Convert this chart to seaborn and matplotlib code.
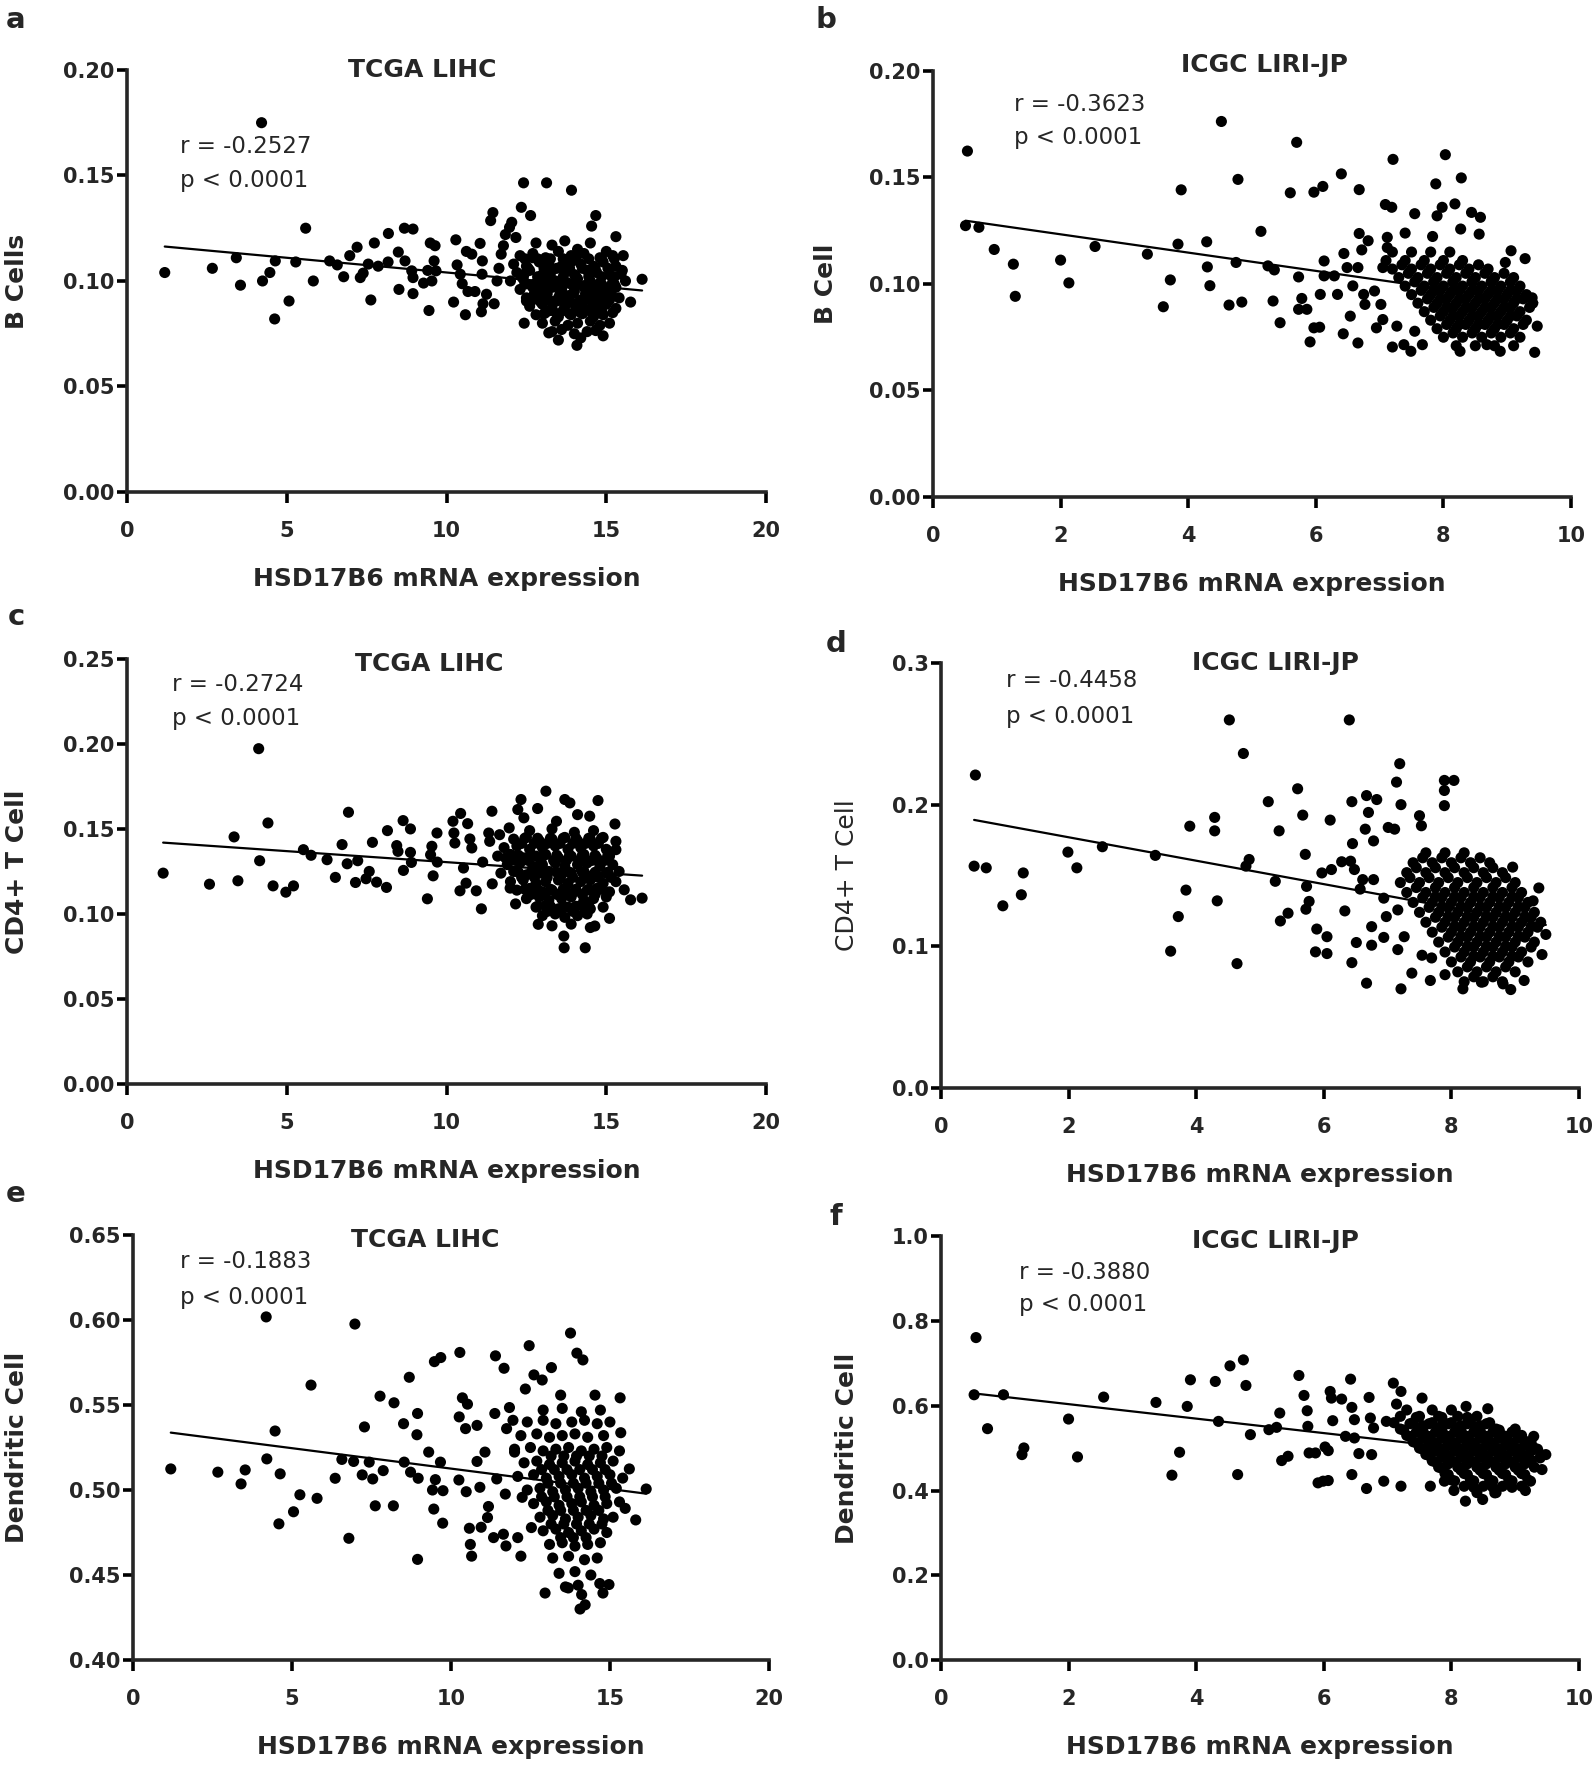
import matplotlib
matplotlib.use("Agg")
import matplotlib.pyplot as plt
import pandas as pd
import seaborn as sns

# ---- a: TCGA LIHC, B cells ----
a_x = [1.18, 2.67, 3.42, 3.55, 4.21, 4.24, 4.47, 4.64, 4.62, 5.07,
       5.28, 5.59, 5.83, 6.34, 6.58, 6.78, 6.97, 7.20, 7.30, 7.39,
       7.55, 7.63, 7.74, 7.86, 8.18, 8.17, 8.49, 8.51, 8.68, 8.70,
       8.95, 8.91, 8.95, 8.95, 9.28, 9.41, 9.45, 9.49, 9.61, 9.64,
       9.54, 9.67, 10.22, 10.29, 10.33, 10.43, 10.49, 10.59, 10.62, 10.67,
       10.79, 10.89, 11.05, 11.12, 11.11, 11.09, 11.14, 11.25, 11.38, 11.45,
       11.49, 11.58, 11.64, 11.71, 11.78, 11.84, 11.97, 12.04, 12.17, 12.34,
       12.41, 12.43, 12.43, 12.50, 12.63, 12.70, 13.13, 13.91, 14.67, 14.54,
       14.08, 14.67, 13.20, 15.76, 16.12, 15.30, 15.53, 15.46]
a_y = [.104, .106, .111, .098, .175, .100, .104, .1095, .082, .0905,
       .109, .125, .100, .1095, .1076, .102, .112, .116, .1016, .1037,
       .108, .091, .118, .107, .1225, .109, .1137, .096, .125, .1095,
       .1246, .1048, .1016, .094, .099, .105, .086, .118, .1095, .1167,
       .100, .1048, .090, .1195, .1076, .1032, .0987, .084, .114, .095,
       .1127, .095, .1178, .1095, .1032, .0854, .0892, .0937, .1286, .1324,
       .0892, .100, .106, .1127, .1167, .122, .1254, .1278, .1206, .1349,
       .1465, .1032, .080, .0905, .131, .111, .1465, .143, .131, .126,
       .0695, .0765, .0754, .090, .1008, .121, .112, .1032]
a_core_x = [12.8, 13.3, 13.7, 14.1, 14.5, 15.0,
            12.3, 12.7, 13.1, 13.5, 13.9, 14.3, 14.8, 15.2,
            12.1, 12.5, 12.9, 13.2, 13.6, 13.9, 14.2, 14.6, 14.9, 15.3,
            12.2, 12.6, 13.0, 13.3, 13.7, 14.0, 14.4, 14.7, 15.1, 15.5,
            12.0, 12.4, 12.8, 13.1, 13.4, 13.8, 14.1, 14.5, 14.8, 15.2, 15.6,
            12.3, 12.7, 13.0, 13.3, 13.6, 14.0, 14.3, 14.6, 14.9, 15.3,
            12.5, 12.9, 13.2, 13.5, 13.8, 14.2, 14.5, 14.8, 15.1, 15.4,
            12.6, 13.0, 13.3, 13.7, 14.0, 14.3, 14.7, 15.0, 15.3,
            12.8, 13.1, 13.5, 13.9, 14.2, 14.6, 14.9, 15.2,
            13.0, 13.4, 13.8, 14.1, 14.5, 14.8, 15.1,
            13.3, 13.6, 14.0, 14.4, 14.7,
            13.5, 14.2, 14.9,
            12.55, 13.05, 13.45, 13.85, 14.25, 14.65, 15.05,
            12.35, 12.85, 13.25, 13.65, 14.05, 14.45, 14.85, 15.25,
            12.65, 13.15, 13.55, 13.95, 14.35, 14.75, 15.15,
            12.75, 13.15, 13.55, 13.95, 14.35, 14.75, 15.15,
            12.95, 13.35, 13.75, 14.15, 14.55, 14.95,
            13.25, 13.65, 14.05, 14.45, 14.85]
a_core_y = [.118, .117, .119, .115, .118, .114,
            .112, .113, .111, .114, .112, .113, .111, .112,
            .108, .107, .109, .108, .107, .109, .108, .107, .109, .107,
            .104, .105, .103, .105, .104, .103, .105, .104, .103, .105,
            .100, .101, .099, .101, .100, .099, .101, .100, .099, .101, .100,
            .096, .097, .095, .097, .096, .095, .097, .096, .095, .097,
            .092, .093, .091, .092, .093, .091, .092, .093, .091, .092,
            .088, .089, .087, .088, .089, .087, .088, .089, .087,
            .084, .085, .083, .084, .085, .083, .084, .085,
            .080, .081, .079, .080, .081, .079, .080,
            .076, .077, .075, .076, .077,
            .072, .073, .074,
            .106, .106, .106, .106, .106, .106, .106,
            .102, .102, .102, .102, .102, .102, .102, .102,
            .098, .098, .098, .098, .098, .098, .098,
            .094, .094, .094, .094, .094, .094, .094,
            .090, .090, .090, .090, .090, .090,
            .086, .086, .086, .086, .086]
a_fill_x = [12.45, 12.85, 13.25, 13.65, 14.05, 14.45, 14.85, 15.25,
            12.45, 12.85, 13.25, 13.65, 14.05, 14.45, 14.85, 15.25,
            12.65, 13.05, 13.45, 13.85, 14.25, 14.65, 15.05,
            13.05, 13.45, 13.85, 14.25, 14.65]
a_fill_y = [.1105, .1105, .1105, .1105, .1105, .1105, .1105, .1105,
            .0985, .0985, .0985, .0985, .0985, .0985, .0985, .0985,
            .0905, .0905, .0905, .0905, .0905, .0905, .0905,
            .0845, .0845, .0845, .0845, .0845]

# ---- b: ICGC LIRI-JP, B cell ----
b_x = [0.54, 0.51, 0.72, 0.96, 1.26, 1.29, 2.00, 2.13, 2.54, 3.36,
       3.61, 3.72, 3.84, 3.89, 4.29, 4.30, 4.34, 4.52, 4.64, 4.75,
       4.78, 4.84, 5.14, 5.25, 5.33, 5.35, 5.44, 5.60, 5.70, 5.73,
       5.78, 5.73, 5.86, 5.91, 5.97, 5.97, 6.06, 6.07, 6.11, 6.13,
       6.13, 6.29, 6.34, 6.40, 6.43, 6.44, 6.49, 6.54, 6.58, 6.66,
       6.66, 6.68, 6.68, 6.72, 6.82, 6.75, 6.77, 6.92, 6.95, 7.02,
       7.05, 7.05, 7.09, 7.12, 7.12, 7.19, 7.20, 7.21, 7.27, 7.38,
       7.40, 7.49, 7.55, 7.55, 7.67, 7.83, 7.88, 7.90, 8.03, 7.98,
       8.18, 8.28, 8.27, 8.44, 8.58, 8.56, 8.26, 8.68, 8.89, 9.06,
       9.28, 9.39, 9.47, 9.43, 8.97]
b_y = [.1624, .1274, .1266, .1162, .1093, .0942, .1112, .1005, .1176, .114,
       .0893, .1019, .1187, .1442, .1198, .108, .0992, .1763, .0901, .1101,
       .1491, .0915, .1247, .1085, .092, .1066, .0818, .1428, .1665, .1033,
       .0932, .0881, .0881, .0728, .1431, .0794, .0797, .0951, .1458, .1108,
       .1038, .1038, .0951, .1517, .0766, .1143, .1077, .0849, .0991, .1077,
       .0723, .1443, .1237, .116, .1203, .0951, .0904, .0967, .0794, .0904,
       .1077, .0833, .1373, .1219, .1171, .136, .0704, .1585, .0802, .0715,
       .1239, .0684, .133, .0778, .0715, .1223, .147, .132, .1607, .136,
       .1376, .1498, .1258, .1336, .1313, .1234, .0684, .0715, .0684, .1156,
       .1119, .0935, .0802, .0679, .1101]
b_core_x = [7.2, 7.5, 7.8, 8.1,
            7.1, 7.4, 7.7, 8.0, 8.3,
            7.2, 7.5, 7.8, 8.1, 8.4, 8.7,
            7.3, 7.6, 7.9, 8.2, 8.5, 8.8, 9.1,
            7.4, 7.7, 8.0, 8.3, 8.6, 8.9, 9.2,
            7.5, 7.8, 8.1, 8.4, 8.7, 9.0, 9.3,
            7.6, 7.9, 8.2, 8.5, 8.8, 9.1, 9.4,
            7.7, 8.0, 8.3, 8.6, 8.9, 9.2,
            7.8, 8.1, 8.4, 8.7, 9.0, 9.3,
            7.9, 8.2, 8.5, 8.8, 9.1,
            8.0, 8.3, 8.6, 8.9, 9.2,
            8.2, 8.5, 8.8, 9.1,
            7.85, 8.15, 8.45, 8.75,
            7.85, 8.15, 8.45, 8.75, 9.05,
            7.95, 8.25, 8.55, 8.85, 9.15,
            8.05, 8.35, 8.65, 8.95,
            8.15, 8.45, 8.75, 9.05,
            8.25, 8.55, 8.85]
b_core_y = [.115, .115, .115, .115,
            .111, .111, .111, .111, .111,
            .107, .107, .107, .107, .107, .107,
            .103, .103, .103, .103, .103, .103, .103,
            .099, .099, .099, .099, .099, .099, .099,
            .095, .095, .095, .095, .095, .095, .095,
            .091, .091, .091, .091, .091, .091, .091,
            .087, .087, .087, .087, .087, .087,
            .083, .083, .083, .083, .083, .083,
            .079, .079, .079, .079, .079,
            .075, .075, .075, .075, .075,
            .071, .071, .071, .071,
            .101, .101, .101, .101,
            .097, .097, .097, .097, .097,
            .093, .093, .093, .093, .093,
            .089, .089, .089, .089,
            .085, .085, .085, .085,
            .081, .081, .081]
b_fill_x = [7.35, 7.65, 7.95, 8.25, 8.55,
            7.45, 7.75, 8.05, 8.35, 8.65, 8.95,
            7.55, 7.85, 8.15, 8.45, 8.75, 9.05,
            7.65, 7.95, 8.25, 8.55, 8.85, 9.15,
            7.75, 8.05, 8.35, 8.65, 8.95, 9.25,
            7.85, 8.15, 8.45, 8.75, 9.05, 9.35,
            7.95, 8.25, 8.55, 8.85, 9.15,
            8.05, 8.35, 8.65, 8.95, 9.25,
            8.15, 8.45, 8.75, 9.05]
b_fill_y = [.109, .109, .109, .109, .109,
            .105, .105, .105, .105, .105, .105,
            .101, .101, .101, .101, .101, .101,
            .097, .097, .097, .097, .097, .097,
            .093, .093, .093, .093, .093, .093,
            .089, .089, .089, .089, .089, .089,
            .085, .085, .085, .085, .085,
            .081, .081, .081, .081, .081,
            .077, .077, .077, .077]

# ---- c: TCGA LIHC, CD4+ T cell ----
c_x = [1.13, 2.58, 3.35, 3.47, 4.12, 4.15, 4.41, 4.57, 4.97, 5.21,
       5.52, 5.76, 6.26, 6.52, 6.73, 6.89, 6.93, 7.15, 7.22, 7.48,
       7.58, 7.68, 7.81, 8.12, 8.15, 8.44, 8.48, 8.64, 8.65, 8.87,
       8.87, 8.90, 9.40, 9.50, 9.54, 9.58, 9.70, 9.71, 10.20, 10.23,
       10.26, 10.44, 10.42, 10.53, 10.61, 10.66, 10.73, 10.79, 10.93, 11.09,
       11.13, 11.32, 11.35, 11.42, 11.43, 11.66, 11.85, 11.96, 11.99, 12.16,
       12.23, 12.33, 12.42, 12.85, 12.87, 13.11, 13.44, 13.67, 13.68, 13.70,
       13.86, 14.10, 14.34, 14.48, 14.74, 14.64, 15.10, 15.27, 15.30, 15.30,
       15.56, 15.76, 16.12]
c_y = [.124, .1175, .1453, .1195, .1972, .1313, .1535, .1165, .1128, .1165,
       .1378, .1345, .1319, .1215, .1408, .1295, .1598, .1185, .1313, .1207,
       .125, .1421, .1187, .1156, .149, .1402, .1368, .1549, .1256, .15,
       .1362, .1303, .1089, .1348, .1398, .1224, .1476, .1305, .1545, .1476,
       .1417, .1591, .1136, .127, .1181, .1531, .1441, .1388, .1136, .103,
       .1305, .1476, .1427, .1604, .1177, .1466, .1329, .1506, .1152, .1059,
       .1614, .1673, .1565, .162, .0939, .1722, .1545, .087, .0801, .1673,
       .1653, .1584, .0801, .1575, .1667, .0929, .0974, .1529, .1427, .1378,
       .1142, .1083, .1093]
c_core_x = [12.6, 13.3, 14.0, 14.6,
            12.1, 12.5, 12.9, 13.3, 13.7, 14.1, 14.5, 14.9,
            11.8, 12.2, 12.6, 13.0, 13.4, 13.8, 14.2, 14.6, 15.0,
            11.6, 12.0, 12.4, 12.8, 13.1, 13.5, 13.9, 14.3, 14.7, 15.1,
            11.9, 12.3, 12.7, 13.0, 13.4, 13.7, 14.1, 14.4, 14.8, 15.2,
            11.7, 12.1, 12.5, 12.9, 13.2, 13.6, 13.9, 14.3, 14.6, 15.0, 15.4,
            12.0, 12.4, 12.8, 13.1, 13.5, 13.8, 14.2, 14.5, 14.9, 15.3,
            12.2, 12.6, 13.0, 13.3, 13.7, 14.0, 14.4, 14.7, 15.1,
            12.5, 12.9, 13.2, 13.6, 13.9, 14.3, 14.6, 15.0,
            12.8, 13.1, 13.5, 13.8, 14.2, 14.5, 14.9,
            13.0, 13.4, 13.7, 14.1, 14.4,
            13.3, 13.9, 14.5,
            12.35, 12.75, 13.15, 13.55, 13.95, 14.35, 14.75,
            12.15, 12.55, 12.95, 13.35, 13.75, 14.15, 14.55, 14.95,
            12.35, 12.75, 13.15, 13.55, 13.95, 14.35, 14.75, 15.15,
            12.65, 13.05, 13.45, 13.85, 14.25, 14.65,
            13.15, 13.55, 13.95, 14.35]
c_core_y = [.149, .150, .148, .149,
            .144, .145, .143, .144, .145, .143, .144, .145,
            .139, .140, .138, .139, .140, .138, .139, .140, .138,
            .134, .135, .133, .134, .135, .133, .134, .135, .133, .134,
            .129, .130, .128, .129, .130, .128, .129, .130, .128, .129,
            .124, .125, .123, .124, .125, .123, .124, .125, .123, .124, .125,
            .119, .120, .118, .119, .120, .118, .119, .120, .118, .119,
            .114, .115, .113, .114, .115, .113, .114, .115, .113,
            .109, .110, .108, .109, .110, .108, .109, .110,
            .104, .105, .103, .104, .105, .103, .104,
            .099, .100, .098, .099, .100,
            .093, .094, .092,
            .1415, .1415, .1415, .1415, .1415, .1415, .1415,
            .1315, .1315, .1315, .1315, .1315, .1315, .1315, .1315,
            .1215, .1215, .1215, .1215, .1215, .1215, .1215, .1215,
            .1115, .1115, .1115, .1115, .1115, .1115,
            .1015, .1015, .1015, .1015]
c_fill_x = [12.45, 12.85, 13.25, 13.65, 14.05, 14.45, 14.85,
            12.25, 12.65, 13.05, 13.45, 13.85, 14.25, 14.65, 15.05,
            12.25, 12.65, 13.05, 13.45, 13.85, 14.25, 14.65, 15.05,
            12.45, 12.85, 13.25, 13.65, 14.05, 14.45, 14.85,
            12.85, 13.25, 13.65, 14.05, 14.45]
c_fill_y = [.1445, .1445, .1445, .1445, .1445, .1445, .1445,
            .1345, .1345, .1345, .1345, .1345, .1345, .1345, .1345,
            .1245, .1245, .1245, .1245, .1245, .1245, .1245, .1245,
            .1145, .1145, .1145, .1145, .1145, .1145, .1145,
            .1045, .1045, .1045, .1045, .1045]

# ---- d: ICGC LIRI-JP, CD4+ T cell ----
d_x = [0.54, 0.52, 0.71, 0.97, 1.26, 1.29, 1.99, 2.13, 2.53, 3.36,
       3.60, 3.72, 3.84, 3.90, 4.29, 4.29, 4.33, 4.52, 4.64, 4.74,
       4.78, 4.83, 5.13, 5.24, 5.30, 5.32, 5.44, 5.59, 5.67, 5.71,
       5.73, 5.77, 5.72, 5.89, 5.87, 6.05, 6.05, 5.97, 6.10, 6.12,
       6.28, 6.33, 6.42, 6.44, 6.40, 6.45, 6.44, 6.48, 6.51, 6.57,
       6.61, 6.65, 6.67, 6.67, 6.70, 6.75, 6.75, 6.78, 6.83, 6.78,
       6.94, 6.94, 6.98, 7.01, 7.11, 7.14, 7.16, 7.16, 7.19, 7.21,
       7.21, 7.26, 7.38, 7.50, 7.53, 7.54, 7.67, 7.69, 7.89, 7.89,
       7.89, 8.04, 7.90, 8.18, 8.47, 8.81, 8.93, 8.96, 9.28, 9.37,
       9.42, 9.48, 9.14]
d_y = [.2209, .1566, .1554, .1286, .1364, .1518, .1665, .1554, .1703, .1642,
       .0966, .121, .1397, .1848, .191, .1815, .1321, .2598, .0878, .2361,
       .1566, .1613, .2021, .1459, .1815, .1179, .1234, .2112, .1926, .1649,
       .1423, .1317, .1262, .1122, .0961, .1068, .0949, .1518, .1891, .1542,
       .1597, .125, .1601, .2021, .2598, .1725, .0885, .1542, .1027, .1404,
       .1471, .1827, .2064, .074, .1945, .1139, .1008, .1744, .2036, .1471,
       .134, .1063, .121, .1839, .1827, .2159, .1257, .0977, .2289, .200,
       .070, .1068, .0811, .1922, .1851, .0937, .0759, .0918, .2171, .210,
       .1993, .2171, .080, .070, .0747, .0735, .0695, .1559, .1321, .1412,
       .0942, .1084, .0759]
d_core_x = [7.6, 7.9, 8.2,
            7.4, 7.7, 8.0, 8.3, 8.6,
            7.3, 7.6, 7.9, 8.2, 8.5, 8.8,
            7.2, 7.5, 7.8, 8.1, 8.4, 8.7, 9.0,
            7.3, 7.6, 7.9, 8.2, 8.5, 8.8, 9.1,
            7.4, 7.7, 8.0, 8.3, 8.6, 8.9, 9.2,
            7.5, 7.8, 8.1, 8.4, 8.7, 9.0, 9.3,
            7.6, 7.9, 8.2, 8.5, 8.8, 9.1, 9.4,
            7.7, 8.0, 8.3, 8.6, 8.9, 9.2,
            7.8, 8.1, 8.4, 8.7, 9.0, 9.3,
            7.9, 8.2, 8.5, 8.8, 9.1,
            8.0, 8.3, 8.6, 8.9, 9.2,
            8.1, 8.4, 8.7, 9.0,
            8.2, 8.5, 8.8,
            7.75, 8.05, 8.35, 8.65, 8.95,
            7.85, 8.15, 8.45, 8.75, 9.05,
            7.95, 8.25, 8.55, 8.85, 9.15,
            8.05, 8.35, 8.65, 8.95, 9.25,
            8.15, 8.45, 8.75, 9.05,
            8.25, 8.55, 8.85,
            8.35, 8.65, 8.95]
d_core_y = [.166, .166, .166,
            .159, .159, .159, .159, .159,
            .152, .152, .152, .152, .152, .152,
            .145, .145, .145, .145, .145, .145, .145,
            .138, .138, .138, .138, .138, .138, .138,
            .131, .131, .131, .131, .131, .131, .131,
            .124, .124, .124, .124, .124, .124, .124,
            .117, .117, .117, .117, .117, .117, .117,
            .110, .110, .110, .110, .110, .110,
            .103, .103, .103, .103, .103, .103,
            .096, .096, .096, .096, .096,
            .089, .089, .089, .089, .089,
            .082, .082, .082, .082,
            .075, .075, .075,
            .135, .135, .135, .135, .135,
            .128, .128, .128, .128, .128,
            .121, .121, .121, .121, .121,
            .114, .114, .114, .114, .114,
            .107, .107, .107, .107,
            .100, .100, .100,
            .093, .093, .093]
d_fill_x = [7.55, 7.85, 8.15, 8.45,
            7.45, 7.75, 8.05, 8.35, 8.65,
            7.35, 7.65, 7.95, 8.25, 8.55, 8.85,
            7.45, 7.75, 8.05, 8.35, 8.65, 8.95,
            7.55, 7.85, 8.15, 8.45, 8.75, 9.05,
            7.65, 7.95, 8.25, 8.55, 8.85, 9.15,
            7.75, 8.05, 8.35, 8.65, 8.95, 9.25,
            7.85, 8.15, 8.45, 8.75, 9.05, 9.35,
            7.95, 8.25, 8.55, 8.85, 9.15,
            8.05, 8.35, 8.65, 8.95, 9.25,
            8.15, 8.45, 8.75, 9.05,
            8.25, 8.55, 8.85,
            8.35, 8.65]
d_fill_y = [.1625, .1625, .1625, .1625,
            .1555, .1555, .1555, .1555, .1555,
            .1485, .1485, .1485, .1485, .1485, .1485,
            .1415, .1415, .1415, .1415, .1415, .1415,
            .1345, .1345, .1345, .1345, .1345, .1345,
            .1275, .1275, .1275, .1275, .1275, .1275,
            .1205, .1205, .1205, .1205, .1205, .1205,
            .1135, .1135, .1135, .1135, .1135, .1135,
            .1065, .1065, .1065, .1065, .1065,
            .0995, .0995, .0995, .0995, .0995,
            .0925, .0925, .0925, .0925,
            .0855, .0855, .0855,
            .0785, .0785]

# ---- e: TCGA LIHC, dendritic cell ----
e_x = [1.19, 2.67, 3.40, 3.53, 4.21, 4.19, 4.47, 4.63, 4.59, 5.05,
       5.25, 5.60, 5.79, 6.36, 6.57, 6.79, 6.94, 6.98, 7.21, 7.28,
       7.43, 7.54, 7.62, 7.77, 7.87, 8.19, 8.21, 8.51, 8.53, 8.69,
       8.73, 8.93, 8.95, 8.95, 8.97, 9.30, 9.42, 9.46, 9.51, 9.48,
       9.68, 9.67, 9.74, 9.75, 10.25, 10.28, 10.26, 10.36, 10.48, 10.52,
       10.46, 10.58, 10.61, 10.65, 10.82, 10.82, 10.91, 10.95, 11.07, 11.18,
       11.15, 11.34, 11.38, 11.40, 11.44, 11.67, 11.65, 11.71, 11.73, 11.75,
       11.84, 11.95, 12.00, 12.10, 12.20, 12.24, 12.34, 12.46, 12.53, 12.61,
       12.87, 12.96, 13.16, 13.45, 13.76, 13.96, 14.15, 13.69, 14.06, 14.22,
       14.11, 14.68, 14.78, 14.97, 14.53, 15.32, 15.34, 15.61, 15.81, 16.14,
       15.48]
e_y = [.5124, .5105, .5036, .5118, .5183, .6018, .5347, .5095, .4801, .4872,
       .4972, .5617, .4951, .5069, .518, .4716, .5168, .5976, .5089, .5371,
       .5164, .5065, .4907, .5552, .5114, .4907, .5513, .539, .5164, .5663,
       .5105, .5325, .545, .4592, .5069, .5223, .500, .4888, .5061, .5755,
       .5779, .5164, .4805, .4996, .5059, .5809, .543, .5542, .499, .5505,
       .5361, .4775, .468, .4611, .538, .5168, .5016, .4781, .5223, .4903,
       .4838, .472, .545, .5789, .5065, .5716, .474, .4976, .4671, .5361,
       .5485, .541, .5223, .472, .4611, .4957, .5594, .5849, .4779, .5677,
       .5647, .4394, .572, .5558, .5923, .5805, .5765, .4424, .430, .4325,
       .4385, .445, .4394, .4444, .5558, .5542, .5337, .5124, .4824, .5006,
       .4892]
e_core_x = [12.9, 13.5, 14.1, 14.7,
            12.4, 12.9, 13.3, 13.8, 14.2, 14.6, 15.0,
            12.2, 12.7, 13.1, 13.5, 13.9, 14.3, 14.8,
            12.0, 12.5, 12.9, 13.3, 13.7, 14.1, 14.5, 14.9, 15.3,
            12.3, 12.7, 13.1, 13.5, 13.9, 14.3, 14.7, 15.1,
            12.1, 12.6, 13.0, 13.4, 13.8, 14.2, 14.6, 15.0, 15.4,
            12.4, 12.8, 13.2, 13.6, 14.0, 14.4, 14.8, 15.2,
            12.6, 13.0, 13.4, 13.8, 14.1, 14.5, 14.9, 15.3,
            12.8, 13.2, 13.6, 14.0, 14.4, 14.8, 15.1,
            12.9, 13.3, 13.7, 14.1, 14.5, 14.9,
            13.1, 13.5, 13.9, 14.3, 14.7,
            13.2, 13.7, 14.2, 14.6,
            13.4, 13.9, 14.4,
            13.6, 14.0,
            13.15, 13.55, 13.95, 14.35, 14.75,
            12.85, 13.25, 13.65, 14.05, 14.45, 14.85,
            13.05, 13.45, 13.85, 14.25, 14.65, 15.05,
            12.85, 13.25, 13.65, 14.05, 14.45, 14.85,
            13.05, 13.45, 13.85, 14.25, 14.65,
            13.15, 13.55, 13.95, 14.35, 14.75,
            13.45, 13.85, 14.25]
e_core_y = [.547, .548, .546, .547,
            .540, .541, .539, .540, .541, .539, .540,
            .532, .533, .531, .532, .533, .531, .532,
            .524, .525, .523, .524, .525, .523, .524, .525, .523,
            .516, .517, .515, .516, .517, .515, .516, .517,
            .508, .509, .507, .508, .509, .507, .508, .509, .507,
            .500, .501, .499, .500, .501, .499, .500, .501,
            .492, .493, .491, .492, .493, .491, .492, .493,
            .484, .485, .483, .484, .485, .483, .484,
            .476, .477, .475, .476, .477, .475,
            .468, .469, .467, .468, .469,
            .460, .461, .459, .460,
            .451, .452, .450,
            .443, .444,
            .520, .520, .520, .520, .520,
            .512, .512, .512, .512, .512, .512,
            .504, .504, .504, .504, .504, .504,
            .496, .496, .496, .496, .496, .496,
            .488, .488, .488, .488, .488,
            .480, .480, .480, .480, .480,
            .472, .472, .472]

# ---- f: ICGC LIRI-JP, dendritic cell ----
f_x = [0.55, 0.52, 0.73, 0.98, 1.27, 1.30, 2.00, 2.14, 2.55, 3.37,
       3.62, 3.74, 3.86, 3.91, 4.30, 4.35, 4.53, 4.65, 4.74, 4.78,
       4.85, 5.14, 5.26, 5.31, 5.34, 5.44, 5.61, 5.69, 5.74, 5.75,
       5.77, 5.87, 5.91, 5.99, 6.07, 6.02, 6.07, 6.10, 6.12, 6.14,
       6.28, 6.34, 6.42, 6.44, 6.44, 6.48, 6.48, 6.55, 6.67, 6.71,
       6.73, 6.78, 6.75, 6.94, 6.98, 7.09, 7.14, 7.21, 7.21, 7.54,
       7.67, 7.89, 8.04, 8.22, 8.23, 8.49, 8.57, 8.68, 9.16, 9.29,
       9.24, 9.42, 9.48, 9.39]
f_y = [.7608, .6259, .5459, .6259, .4847, .5004, .5686, .4792, .6204, .6078,
       .4361, .4902, .5984, .6612, .6573, .5631, .6941, .4376, .7082, .6478,
       .5318, .5435, .549, .5827, .4706, .4808, .6714, .6243, .5882, .5514,
       .4886, .4886, .418, .422, .4235, .5027, .4941, .6337, .618, .5647,
       .6157, .5278, .6627, .5961, .4376, .5671, .5239, .4871, .4047, .6196,
       .571, .5475, .4847, .422, .5631, .6533, .6039, .6337, .4102, .618,
       .4102, .422, .400, .3749, .5984, .3788, .5929, .3945, .400, .5278,
       .422, .4494, .4847, .4769]
f_core_x = [7.3, 7.7, 8.0,
            7.2, 7.5, 7.8, 8.1, 8.4,
            7.1, 7.4, 7.7, 8.0, 8.3, 8.6,
            7.2, 7.5, 7.8, 8.1, 8.4, 8.7, 9.0,
            7.3, 7.6, 7.9, 8.2, 8.5, 8.8, 9.1,
            7.4, 7.7, 8.0, 8.3, 8.6, 8.9, 9.2,
            7.5, 7.8, 8.1, 8.4, 8.7, 9.0, 9.3,
            7.6, 7.9, 8.2, 8.5, 8.8, 9.1, 9.4,
            7.7, 8.0, 8.3, 8.6, 8.9, 9.2,
            7.8, 8.1, 8.4, 8.7, 9.0, 9.3,
            7.9, 8.2, 8.5, 8.8, 9.1,
            8.0, 8.3, 8.6, 8.9, 9.2,
            8.2, 8.5, 8.8, 9.1,
            8.4, 8.7,
            7.55, 7.85, 8.15, 8.45,
            7.45, 7.75, 8.05, 8.35, 8.65, 8.95,
            7.55, 7.85, 8.15, 8.45, 8.75, 9.05,
            7.65, 7.95, 8.25, 8.55, 8.85, 9.15,
            7.75, 8.05, 8.35, 8.65, 8.95, 9.25,
            7.85, 8.15, 8.45, 8.75, 9.05,
            7.95, 8.25, 8.55, 8.85, 9.15,
            8.15, 8.45, 8.75, 9.05]
f_core_y = [.590, .590, .590,
            .575, .575, .575, .575, .575,
            .560, .560, .560, .560, .560, .560,
            .545, .545, .545, .545, .545, .545, .545,
            .530, .530, .530, .530, .530, .530, .530,
            .515, .515, .515, .515, .515, .515, .515,
            .500, .500, .500, .500, .500, .500, .500,
            .485, .485, .485, .485, .485, .485, .485,
            .470, .470, .470, .470, .470, .470,
            .455, .455, .455, .455, .455, .455,
            .440, .440, .440, .440, .440,
            .425, .425, .425, .425, .425,
            .410, .410, .410, .410,
            .395, .395,
            .553, .553, .553, .553,
            .538, .538, .538, .538, .538, .538,
            .523, .523, .523, .523, .523, .523,
            .508, .508, .508, .508, .508, .508,
            .493, .493, .493, .493, .493, .493,
            .478, .478, .478, .478, .478,
            .463, .463, .463, .463, .463,
            .448, .448, .448, .448]
f_fill_x = [7.45, 7.85, 8.25,
            7.35, 7.65, 7.95, 8.25, 8.55,
            7.25, 7.55, 7.85, 8.15, 8.45, 8.75,
            7.35, 7.65, 7.95, 8.25, 8.55, 8.85,
            7.45, 7.75, 8.05, 8.35, 8.65, 8.95, 9.25,
            7.55, 7.85, 8.15, 8.45, 8.75, 9.05, 9.35,
            7.65, 7.95, 8.25, 8.55, 8.85, 9.15,
            7.75, 8.05, 8.35, 8.65, 8.95, 9.25,
            7.85, 8.15, 8.45, 8.75, 9.05,
            7.95, 8.25, 8.55, 8.85, 9.15,
            8.05, 8.35, 8.65, 8.95,
            8.35, 8.65, 8.95]
f_fill_y = [.5725, .5725, .5725,
            .5575, .5575, .5575, .5575, .5575,
            .5425, .5425, .5425, .5425, .5425, .5425,
            .5275, .5275, .5275, .5275, .5275, .5275,
            .5125, .5125, .5125, .5125, .5125, .5125, .5125,
            .4975, .4975, .4975, .4975, .4975, .4975, .4975,
            .4825, .4825, .4825, .4825, .4825, .4825,
            .4675, .4675, .4675, .4675, .4675, .4675,
            .4525, .4525, .4525, .4525, .4525,
            .4375, .4375, .4375, .4375, .4375,
            .4225, .4225, .4225, .4225,
            .4075, .4075, .4075]

titles = ["TCGA LIHC", "ICGC LIRI-JP"] * 3
stats_r = ["r = -0.2527", "r = -0.3623", "r = -0.2724",
           "r = -0.4458", "r = -0.1883", "r = -0.3880"]
ylabels = ["B Cells", "B Cell", "CD4+ T Cell", "CD4+ T Cell",
           "Dendritic Cell", "Dendritic Cell"]
xlabel = "HSD17B6 mRNA expression"
tcga_xticks = [0, 5, 10, 15, 20]
icgc_xticks = [0, 2, 4, 6, 8, 10]
yticks = [
    [0.00, 0.05, 0.10, 0.15, 0.20],
    [0.00, 0.05, 0.10, 0.15, 0.20],
    [0.00, 0.05, 0.10, 0.15, 0.20, 0.25],
    [0.0, 0.1, 0.2, 0.3],
    [0.40, 0.45, 0.50, 0.55, 0.60, 0.65],
    [0.0, 0.2, 0.4, 0.6, 0.8, 1.0],
]
ytick_fmt = ["{:.2f}", "{:.2f}", "{:.2f}", "{:.1f}", "{:.2f}", "{:.1f}"]

sns.set_style("ticks")
plt.rcParams["font.family"] = ["DejaVu Sans"]

fig = plt.figure(figsize=(15.94, 17.66), dpi=100)

# layout: [left, bottom, width, height], label offsets, text positions
layout = [
    dict(letter="a", rect=[0.0797, 0.7214, 0.4009, 0.2390], lp=(0.010, 0.9887),
         title_x=0.462, title_y=1.0, stat_x=0.083, stat_y=(0.819, 0.739),
         ylab_x=-0.172, bold_y=True),
    dict(letter="b", rect=[0.5853, 0.7186, 0.4003, 0.2412], lp=(0.518, 0.9887),
         title_x=0.519, title_y=1.013, stat_x=0.127, stat_y=(0.921, 0.844),
         ylab_x=-0.168, bold_y=True),
    dict(letter="c", rect=[0.0797, 0.3862, 0.4009, 0.2407], lp=(0.010, 0.6506),
         title_x=0.473, title_y=0.989, stat_x=0.071, stat_y=(0.939, 0.859),
         ylab_x=-0.172, bold_y=True),
    dict(letter="d", rect=[0.5903, 0.3839, 0.4003, 0.2407], lp=(0.5245, 0.6353),
         title_x=0.524, title_y=1.0, stat_x=0.102, stat_y=(0.958, 0.873),
         ylab_x=-0.147, bold_y=False),
    dict(letter="e", rect=[0.0834, 0.0600, 0.3990, 0.2407], lp=(0.010, 0.3239),
         title_x=0.460, title_y=0.987, stat_x=0.074, stat_y=(0.937, 0.854),
         ylab_x=-0.182, bold_y=True),
    dict(letter="f", rect=[0.5903, 0.0600, 0.4003, 0.2400], lp=(0.5245, 0.3109),
         title_x=0.524, title_y=0.989, stat_x=0.122, stat_y=(0.915, 0.838),
         ylab_x=-0.147, bold_y=True),
]

series = [(a_x + a_core_x + a_fill_x, a_y + a_core_y + a_fill_y),
          (b_x + b_core_x + b_fill_x, b_y + b_core_y + b_fill_y),
          (c_x + c_core_x + c_fill_x, c_y + c_core_y + c_fill_y),
          (d_x + d_core_x + d_fill_x, d_y + d_core_y + d_fill_y),
          (e_x + e_core_x, e_y + e_core_y),
          (f_x + f_core_x + f_fill_x, f_y + f_core_y + f_fill_y)]

for i, (lay, (xs, ys)) in enumerate(zip(layout, series)):
    ax = fig.add_axes(lay["rect"])
    df = pd.DataFrame({"expr": xs, "cell": ys})

    sns.scatterplot(data=df, x="expr", y="cell", ax=ax, color="black",
                    s=64, edgecolor="none", linewidth=0, zorder=3)
    sns.regplot(data=df, x="expr", y="cell", ax=ax, scatter=False, ci=None,
                color="black", line_kws={"linewidth": 1.6, "zorder": 4})

    xt = tcga_xticks if i % 2 == 0 else icgc_xticks
    ax.set_xlim(xt[0], xt[-1])
    ax.set_ylim(yticks[i][0], yticks[i][-1])
    ax.set_xticks(xt, [str(t) for t in xt], fontweight="bold")
    ax.set_yticks(yticks[i], [ytick_fmt[i].format(t) for t in yticks[i]],
                  fontweight="bold")

    sns.despine(ax=ax)
    for side in ["left", "bottom"]:
        ax.spines[side].set_linewidth(2.6)
    ax.tick_params(axis="both", width=2.6, labelsize=15, color="black")
    ax.tick_params(axis="x", length=8, pad=13)
    ax.tick_params(axis="y", length=7, pad=2)

    ax.set_xlabel(xlabel, fontsize=18, fontweight="bold", va="center")
    ax.xaxis.set_label_coords(0.5, -0.205)
    ax.set_ylabel(ylabels[i], fontsize=18,
                  fontweight="bold" if lay["bold_y"] else "normal",
                  va="center", ha="center")
    ax.yaxis.set_label_coords(lay["ylab_x"], 0.5)

    ax.text(lay["title_x"], lay["title_y"], titles[i], transform=ax.transAxes,
            ha="center", va="center", fontsize=18, fontweight="bold")
    ax.text(lay["stat_x"], lay["stat_y"][0], stats_r[i], transform=ax.transAxes,
            ha="left", va="center", fontsize=16.5)
    ax.text(lay["stat_x"], lay["stat_y"][1], "p < 0.0001", transform=ax.transAxes,
            ha="left", va="center", fontsize=16.5)

    fig.text(lay["lp"][0], lay["lp"][1], lay["letter"], ha="center", va="center",
             fontsize=21, fontweight="bold")

fig.savefig("out.png", dpi=100)
